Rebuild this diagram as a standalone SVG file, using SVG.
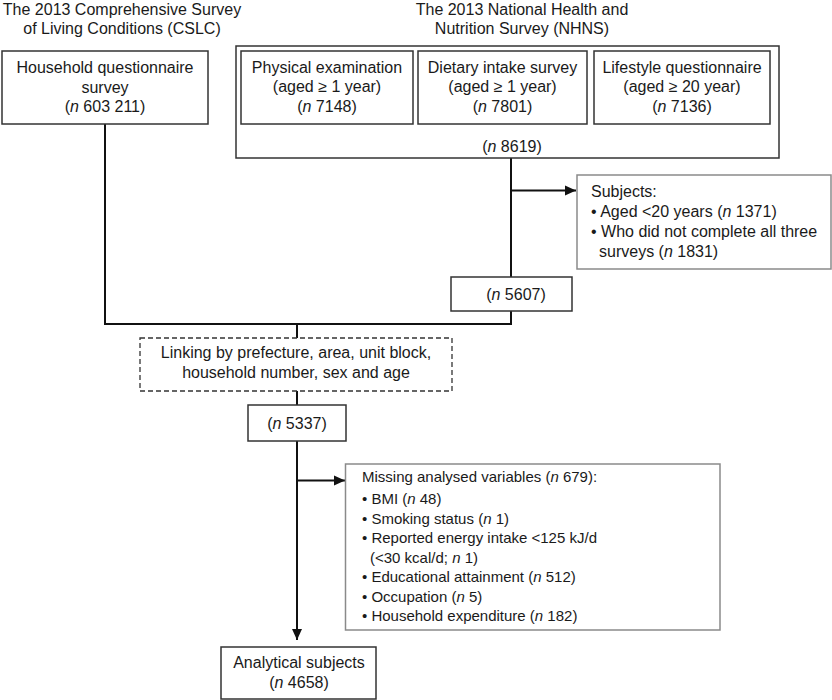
<svg xmlns="http://www.w3.org/2000/svg" width="832" height="700" viewBox="0 0 832 700">
<style>
text{font-family:"Liberation Sans",Arial,Helvetica,sans-serif;font-size:16px;fill:#1a1a1a}
.c{text-anchor:middle}
.s{font-size:15px}
.box{fill:#fff;stroke:#333;stroke-width:1.5}
.gbox{fill:#fff;stroke:#8a8a8a;stroke-width:1.5}
.dbox{fill:#fff;stroke:#333;stroke-width:1.3;stroke-dasharray:5 3}
.ln{fill:none;stroke:#111;stroke-width:2}
.i{font-style:italic}
</style>
<defs>
<marker id="arr" markerUnits="userSpaceOnUse" markerWidth="12" markerHeight="12" viewBox="0 0 12 12" refX="11" refY="6" orient="auto">
<path d="M0,1 L11,6 L0,11 Z" fill="#111"/>
</marker>
</defs>
<rect width="832" height="700" fill="#fff"/>

<g id="titles">
<text class="c" x="122" y="15">The 2013 Comprehensive Survey</text>
<text class="c" x="122" y="33.5">of Living Conditions (CSLC)</text>
<text class="c" x="522" y="15">The 2013 National Health and</text>
<text class="c" x="522" y="33.5">Nutrition Survey (NHNS)</text>
</g>

<g id="connectors">
<line class="ln" x1="105" y1="124" x2="105" y2="324"/>
<line class="ln" x1="511" y1="158" x2="511" y2="277"/>
<line class="ln" x1="511" y1="311" x2="511" y2="324"/>
<line class="ln" x1="104" y1="324" x2="512" y2="324"/>
<line class="ln" x1="297" y1="324" x2="297" y2="338"/>
<line class="ln" x1="297" y1="391" x2="297" y2="405"/>
<line class="ln" x1="297" y1="441" x2="297" y2="640" marker-end="url(#arr)"/>
<line class="ln" x1="511" y1="190.5" x2="576" y2="190.5" marker-end="url(#arr)"/>
<line class="ln" x1="297" y1="480.5" x2="345" y2="480.5" marker-end="url(#arr)"/>
</g>

<g id="household">
<rect class="box" x="2" y="51" width="206" height="73"/>
<text class="c" x="105" y="73">Household questionnaire</text>
<text class="c" x="105" y="93">survey</text>
<text class="c" x="105" y="112">(<tspan class="i">n</tspan> 603 211)</text>
</g>

<g id="nhns">
<rect class="box" x="236" y="46" width="543" height="112"/>
<text class="c" x="512" y="152">(<tspan class="i">n</tspan> 8619)</text>
</g>

<g id="physical">
<rect class="box" x="241" y="51" width="172" height="73"/>
<text class="c" x="327" y="73">Physical examination</text>
<text class="c" x="327" y="92">(aged ≥ 1 year)</text>
<text class="c" x="327" y="112">(<tspan class="i">n</tspan> 7148)</text>
</g>

<g id="dietary">
<rect class="box" x="418" y="51" width="169" height="73"/>
<text class="c" x="502.5" y="73">Dietary intake survey</text>
<text class="c" x="502.5" y="92">(aged ≥ 1 year)</text>
<text class="c" x="502.5" y="112">(<tspan class="i">n</tspan> 7801)</text>
</g>

<g id="lifestyle">
<rect class="box" x="594" y="51" width="176" height="73"/>
<text class="c" x="682" y="73">Lifestyle questionnaire</text>
<text class="c" x="682" y="92">(aged ≥ 20 year)</text>
<text class="c" x="682" y="112">(<tspan class="i">n</tspan> 7136)</text>
</g>

<g id="excluded1">
<rect class="gbox" x="577" y="175" width="254" height="94"/>
<text x="591" y="197">Subjects:</text>
<text x="591" y="217">• Aged &lt;20 years (<tspan class="i">n</tspan> 1371)</text>
<text x="591" y="237">• Who did not complete all three</text>
<text x="599" y="257">surveys (<tspan class="i">n</tspan> 1831)</text>
</g>

<g id="n5607">
<rect class="box" x="451" y="277" width="121" height="34"/>
<text class="c" x="516" y="300">(<tspan class="i">n</tspan> 5607)</text>
</g>

<g id="linking">
<rect class="dbox" x="140" y="338" width="312" height="53"/>
<text class="c" x="296" y="358">Linking by prefecture, area, unit block,</text>
<text class="c" x="296" y="378">household number, sex and age</text>
</g>

<g id="n5337">
<rect class="box" x="248" y="405" width="98" height="36"/>
<text class="c" x="297" y="429">(<tspan class="i">n</tspan> 5337)</text>
</g>

<g id="excluded2">
<rect class="gbox" x="345.5" y="464" width="374.5" height="166"/>
<text class="s" x="362" y="482">Missing analysed variables (<tspan class="i">n</tspan> 679):</text>
<text class="s" x="362" y="504">• BMI (<tspan class="i">n</tspan> 48)</text>
<text class="s" x="362" y="524">• Smoking status (<tspan class="i">n</tspan> 1)</text>
<text class="s" x="362" y="543">• Reported energy intake &lt;125 kJ/d</text>
<text class="s" x="370" y="563">(&lt;30 kcal/d; <tspan class="i">n</tspan> 1)</text>
<text class="s" x="362" y="582">• Educational attainment (<tspan class="i">n</tspan> 512)</text>
<text class="s" x="362" y="602">• Occupation (<tspan class="i">n</tspan> 5)</text>
<text class="s" x="362" y="621">• Household expenditure (<tspan class="i">n</tspan> 182)</text>
</g>

<g id="analytical">
<rect class="box" x="221" y="647" width="155" height="52"/>
<text class="c" x="299" y="668">Analytical subjects</text>
<text class="c" x="299" y="688">(<tspan class="i">n</tspan> 4658)</text>
</g>
</svg>
